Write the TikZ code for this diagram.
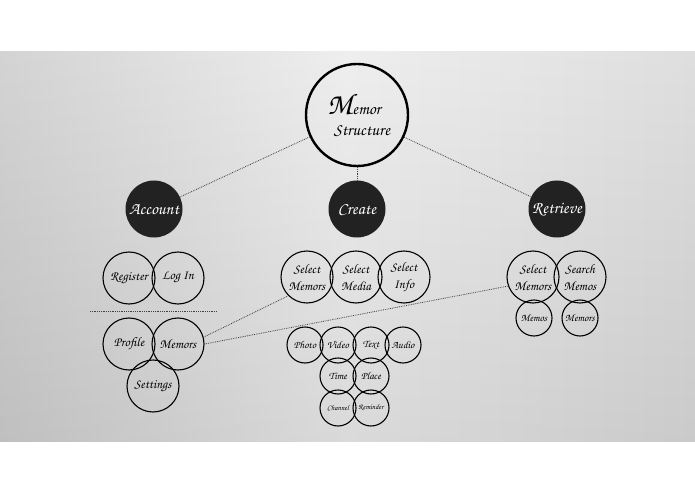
\documentclass[tikz,border=0pt]{standalone}
\usepackage[T1]{fontenc}
\definecolor{bubble}{HTML}{222222}
\definecolor{fogleft}{HTML}{D0D0D0}
\definecolor{fogmid}{HTML}{EDEDED}
\definecolor{fogright}{HTML}{DCDCDC}
\newcommand{\chorus}[2]{\fontfamily{pzc}\fontseries{mb}\fontshape{it}\fontsize{#1}{#2}\selectfont}
\begin{document}
\begin{tikzpicture}[x=1pt,y=-1pt,
  ring/.style={draw,circle,inner sep=0pt,minimum size=52pt,line width=1.1pt,
               align=center,font=\chorus{13}{17}},
  smallring/.style={ring,minimum size=36pt,font=\chorus{10.5}{12}},
  tinyring/.style={smallring,font=\chorus{7.5}{9}},
  blob/.style={circle,fill=bubble,text=white,inner sep=0pt,minimum size=57pt,
               font=\chorus{17}{20}},
  link/.style={densely dotted,line width=0.8pt,black!75}]

% frame and misty background
\useasboundingbox (0,0) rectangle (695,494);
\fill[white] (0,0) rectangle (695,494);
\shade[left color=fogleft,right color=fogright,middle color=fogmid]
  (0,52) rectangle (695,441);
\shade[top color=white,bottom color=black,opacity=0.08] (0,52) rectangle (695,441);

% top
\node[ring,minimum size=102pt,line width=2.4pt,font=\chorus{17}{21}] (memor) at (357,115)
  {\hspace*{-6pt}{\chorus{30}{21}M}emor\\ \hspace*{10pt}Structure};

\node[blob] (account) at (154,209) {Account};
\node[blob] (create) at (357,209) {Create};
\node[blob] (retrieve) at (557,209) {Retrieve};

% account
\node[ring] (register) at (129,278) {Register};
\node[ring] (login) at (178,278) {Log In};
\coordinate (cutl) at (90,311);
\coordinate (cutr) at (217,311);
\node[ring] (profile) at (129,344) {Profile};
\node[ring] (accmemors) at (178,344) {Memors};
\node[ring] (settings) at (153,386) {Settings};

% create
\node[ring] (selmemors) at (307,277) {Select\\Memors};
\node[ring] (selmedia) at (356,277) {Select\\Media};
\node[ring] (selinfo) at (404,277) {Select\\Info};
\node[smallring] (photo) at (305,345) {Photo};
\node[smallring] (video) at (338,345) {Video};
\node[smallring] (text) at (371,345) {Text};
\node[smallring] (audio) at (403,345) {Audio};
\node[smallring] (time) at (338,376) {Time};
\node[smallring] (place) at (371,376) {Place};
\node[tinyring] (channel) at (338,408) {Channel};
\node[tinyring] (reminder) at (371,408) {Reminder};

% retrieve
\node[ring] (retselect) at (533,277) {Select\\Memors};
\node[ring] (retsearch) at (580,277) {Search\\Memos};
\node[smallring] (retmemos) at (534,318) {Memos};
\node[smallring] (retmemors) at (580,318) {Memors};

% links
\draw[link] (memor) -- (account);
\draw[link] (memor) -- (create);
\draw[link] (memor) -- (retrieve);
\draw[link] (cutl) -- (cutr);
\draw[link] (accmemors.15) -- (selmemors.225);
\draw[link] (accmemors.0) -- (retselect.200);
\end{tikzpicture}
\end{document}
